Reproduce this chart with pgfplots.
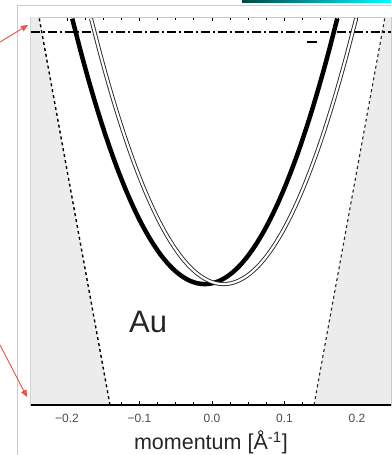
\documentclass[border=0pt]{standalone}
\usepackage{pgfplots}
\pgfplotsset{compat=1.18}
\usepackage{pgfplotstable}
\usepackage{fontspec}
\setmainfont{Liberation Sans}
\usetikzlibrary{arrows.meta}

% Rashba-split Au(111) surface state: E (eV) vs k (1/Angstrom)
\pgfplotstableread{
k        E
-0.1928  0.025
-0.180  -0.0413
-0.170  -0.0899
-0.160  -0.1356
-0.150  -0.1783
-0.140  -0.2181
-0.130  -0.2549
-0.120  -0.2888
-0.110  -0.3197
-0.100  -0.3477
-0.090  -0.3727
-0.080  -0.3948
-0.070  -0.4140
-0.060  -0.4302
-0.050  -0.4434
-0.040  -0.4537
-0.030  -0.4611
-0.020  -0.4655
-0.010  -0.4670
 0.000  -0.4655
 0.010  -0.4611
 0.020  -0.4537
 0.030  -0.4434
 0.040  -0.4302
 0.050  -0.4140
 0.060  -0.3948
 0.070  -0.3727
 0.080  -0.3477
 0.090  -0.3197
 0.100  -0.2888
 0.110  -0.2549
 0.120  -0.2181
 0.130  -0.1783
 0.140  -0.1356
 0.150  -0.0899
 0.160  -0.0413
 0.1728  0.025
}\bandA

\pgfplotstableread{
k        E
-0.1668  0.025
-0.154  -0.0413
-0.144  -0.0899
-0.134  -0.1356
-0.124  -0.1783
-0.114  -0.2181
-0.104  -0.2549
-0.094  -0.2888
-0.084  -0.3197
-0.074  -0.3477
-0.064  -0.3727
-0.054  -0.3948
-0.044  -0.4140
-0.034  -0.4302
-0.024  -0.4434
-0.014  -0.4537
-0.004  -0.4611
 0.006  -0.4655
 0.016  -0.4670
 0.026  -0.4655
 0.036  -0.4611
 0.046  -0.4537
 0.056  -0.4434
 0.066  -0.4302
 0.076  -0.4140
 0.086  -0.3948
 0.096  -0.3727
 0.106  -0.3477
 0.116  -0.3197
 0.126  -0.2888
 0.136  -0.2549
 0.146  -0.2181
 0.156  -0.1783
 0.166  -0.1356
 0.176  -0.0899
 0.186  -0.0413
 0.1988  0.025
}\bandB

\definecolor{bulkgray}{RGB}{236,236,236}
\definecolor{arrowred}{RGB}{240,80,70}

\begin{document}
\begin{tikzpicture}
\begin{axis}[
  name=ax,
  scale only axis, width=360.3pt, height=388pt,
  xmin=-0.25, xmax=0.247, ymin=-0.691, ymax=0.028,
  axis line style={gray!45, line width=0.5pt},
  tick align=inside, tick pos=both,
  xtick={-0.2,-0.1,0,0.1,0.2},
  xticklabels={−0.2,−0.1,0.0,0.1,0.2},
  minor x tick num=3,
  ytick={-0.68,-0.66,...,0.03},
  yticklabels={},
  major tick length=4pt, minor tick length=3pt,
  every tick/.style={black, line width=0.9pt},
  tick label style={font=\fontsize{12}{12}\selectfont, text=black!70},
  xticklabel style={yshift=-6pt},
  xlabel={momentum [Å\textsuperscript{-1}]},
  xlabel style={font=\fontsize{21.5}{21.5}\selectfont, text=black!85, yshift=-1pt},
  clip=true,
]
% bulk-band projections
\addplot[fill=bulkgray, draw=none] coordinates {(-0.25,-0.691) (-0.1407,-0.691) (-0.2386,0.028) (-0.25,0.028)} -- cycle;
\addplot[fill=bulkgray, draw=none] coordinates {(0.1407,-0.691) (0.247,-0.691) (0.247,0.028) (0.2386,0.028)} -- cycle;
\addplot[black, line width=1.4pt, dash pattern=on 3pt off 3pt] coordinates {(-0.1407,-0.691) (-0.2386,0.028)};
\addplot[black!85, line width=1.1pt, dash pattern=on 3pt off 3pt] coordinates {(0.1407,-0.691) (0.2386,0.028)};
% Fermi level
\addplot[black, line width=1.6pt, dash pattern=on 9pt off 3pt on 2pt off 3pt] coordinates {(-0.25,0) (0.247,0)};
% spin-split branches
\addplot[black, line width=4.5pt, smooth] table[x=k,y=E] {\bandA};
\addplot[black!85, line width=0.9pt, double=white, double distance=2.2pt, smooth] table[x=k,y=E] {\bandB};
\addplot[black, line width=2pt] coordinates {(0.131,-0.0185) (0.145,-0.0185)};
% bottom axis line
\draw[black, line width=1.2pt] (rel axis cs:0,0) -- (rel axis cs:1,0);
\node[font=\fontsize{31}{31}\selectfont, text=black!85] at (axis cs:-0.088,-0.537) {Au};
\end{axis}

% surrounding window elements, placed relative to the axis corner
\begin{scope}[shift={(ax.south west)}, xshift=-30.75pt, yshift=-50pt, x=1pt, y=1pt]
\draw[gray!40, line width=0.6pt] (17,0) -- (17,450) -- (391,450);
\shade[left color=teal!55!black, right color=cyan] (242,452.4) rectangle (391,455);
\draw[arrowred, line width=0.9pt, -{Triangle[length=7pt,width=6pt]}] (0,413) -- (28,430);
\draw[arrowred, line width=0.9pt, -{Triangle[length=7pt,width=6pt]}] (0,110) -- (27,58);
\end{scope}

\pgfresetboundingbox
\path[use as bounding box] (ax.south west) ++(-30.75pt,-50pt) rectangle ++(391pt,455pt);
\end{tikzpicture}
\end{document}
